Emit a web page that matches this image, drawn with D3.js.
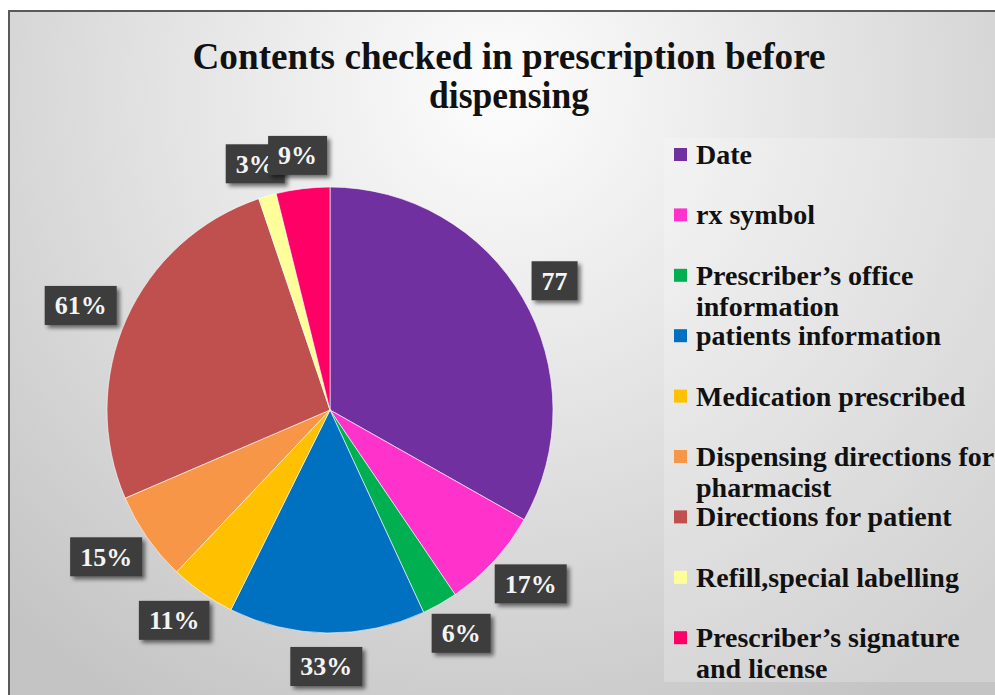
<!DOCTYPE html>
<html>
<head>
<meta charset="utf-8">
<script src="https://cdn.jsdelivr.net/npm/d3@7"></script>
<style>
  html, body { margin: 0; padding: 0; background: #ffffff; }
  svg { display: block; }
</style>
</head>
<body>
<svg id="chart" width="995" height="695"></svg>
<script>
// Prescription contents checked before dispensing
const categories = [
  "Date",
  "rx symbol",
  "Prescriber\u2019s office information",
  "patients information",
  "Medication prescribed",
  "Dispensing directions for pharmacist",
  "Directions for patient",
  "Refill,special labelling",
  "Prescriber\u2019s signature and license"
];
const values = [77, 17, 6, 33, 11, 15, 61, 3, 9];
const valueLabels = ["77", "17%", "6%", "33%", "11%", "15%", "61%", "3%", "9%"];
// legend text split into its displayed lines
const legendLines = [
  ["Date"],
  ["rx symbol"],
  ["Prescriber\u2019s office", "information"],
  ["patients information"],
  ["Medication prescribed"],
  ["Dispensing directions for", "pharmacist"],
  ["Directions for patient"],
  ["Refill,special labelling"],
  ["Prescriber\u2019s signature", "and license"]
];
const colors = ["#7030A0", "#FF33CC", "#00B050", "#0070C0", "#FFC000",
                "#F79646", "#C0504D", "#FFFF99", "#FF0066"];
const titleLines = ["Contents checked in prescription  before", "dispensing"];

const svg = d3.select("#chart");
const W = 995, H = 695;
const defs = svg.append("defs");

const bg = defs.append("radialGradient").attr("id", "bgGrad")
  .attr("gradientUnits", "userSpaceOnUse")
  .attr("cx", 500).attr("cy", 90).attr("r", 720);
bg.append("stop").attr("offset", "0%").attr("stop-color", "#fdfdfd");
bg.append("stop").attr("offset", "45%").attr("stop-color", "#e4e4e4");
bg.append("stop").attr("offset", "100%").attr("stop-color", "#c4c4c4");

const shadow = defs.append("filter").attr("id", "boxShadow")
  .attr("x", "-30%").attr("y", "-30%").attr("width", "160%").attr("height", "170%");
shadow.append("feGaussianBlur").attr("in", "SourceAlpha").attr("stdDeviation", 2).attr("result", "b");
shadow.append("feOffset").attr("in", "b").attr("dx", 3).attr("dy", 3).attr("result", "o");
shadow.append("feComponentTransfer").attr("in", "o").attr("result", "s")
  .append("feFuncA").attr("type", "linear").attr("slope", 0.55);
const merge = shadow.append("feMerge");
merge.append("feMergeNode").attr("in", "s");
merge.append("feMergeNode").attr("in", "SourceGraphic");

// chart area with frame on top and left
svg.append("rect").attr("x", 9).attr("y", 11).attr("width", W).attr("height", H)
  .attr("fill", "url(#bgGrad)").attr("stroke", "#5a5a5a").attr("stroke-width", 2);

// title
const serif = "'Liberation Serif', 'Times New Roman', serif";
const titleWidths = [633, 160];
svg.append("g").selectAll("text").data(titleLines).join("text")
  .attr("x", 509).attr("y", (d, i) => 69 + i * 39)
  .attr("text-anchor", "middle")
  .attr("font-family", serif).attr("font-weight", "bold").attr("font-size", 37)
  .attr("fill", "#111")
  .attr("textLength", (d, i) => titleWidths[i])
  .attr("lengthAdjust", "spacingAndGlyphs")
  .text(d => d);

// legend panel
const legendG = svg.append("g");
legendG.append("rect").attr("x", 664).attr("y", 138).attr("width", 340).attr("height", 544)
  .attr("fill", "#ffffff").attr("fill-opacity", 0.22);
const rowStep = 60.4, row0 = 164;
const items = legendG.selectAll("g.item").data(categories).join("g")
  .attr("class", "item")
  .attr("transform", (d, i) => `translate(674,${row0 + i * rowStep})`);
items.append("rect").attr("x", 0).attr("y", -16).attr("width", 13).attr("height", 13)
  .attr("fill", (d, i) => colors[i]);
items.each(function (d, i) {
  d3.select(this).selectAll("text").data(legendLines[i]).join("text")
    .attr("x", 22).attr("y", (t, j) => j * 31)
    .attr("font-family", serif).attr("font-weight", "bold").attr("font-size", 28)
    .attr("fill", "#111")
    .text(t => t);
});

// pie
const cx = 330, cy = 410, r = 223;
const pie = d3.pie().sort(null).value(d => d)(values);
const arc = d3.arc().innerRadius(0).outerRadius(r);
const pieG = svg.append("g").attr("transform", `translate(${cx},${cy})`);
pieG.selectAll("path").data(pie).join("path")
  .attr("d", arc)
  .attr("fill", (d, i) => colors[i])
  .attr("stroke", "#ffffff").attr("stroke-opacity", 0.6).attr("stroke-width", 1);

// data labels: outside end, box edge a small gap beyond the rim
const gap = 14, boxH = 39, padX = 10;
const labelG = pieG.append("g");
pie.forEach((d, i) => {
  const a = (d.startAngle + d.endAngle) / 2;
  const g = labelG.append("g");
  const t = g.append("text")
    .attr("font-family", serif).attr("font-weight", "bold").attr("font-size", 26)
    .attr("fill", "#f4f4f4").attr("text-anchor", "middle")
    .text(valueLabels[i]);
  const tw = t.node().getComputedTextLength();
  const bw = tw + padX * 2;
  const sx = Math.sin(a), sy = -Math.cos(a);
  const x = (r + gap) * sx + (bw / 2) * sx;
  const y = (r + gap) * sy + (boxH / 2) * sy;
  g.insert("rect", "text")
    .attr("x", x - bw / 2).attr("y", y - boxH / 2)
    .attr("width", bw).attr("height", boxH)
    .attr("fill", "#3d3d3d").attr("filter", "url(#boxShadow)");
  t.attr("x", x).attr("y", y + 9);
});
</script>
</body>
</html>
